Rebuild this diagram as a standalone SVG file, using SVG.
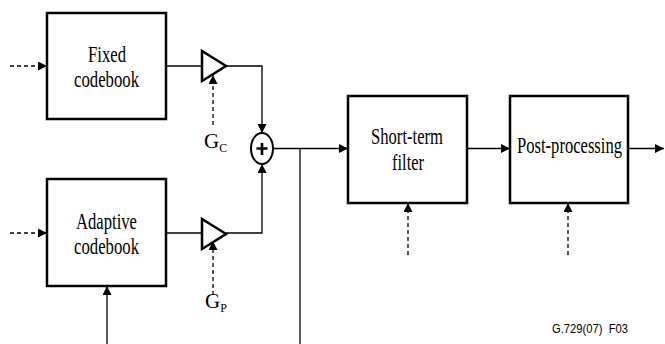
<svg xmlns="http://www.w3.org/2000/svg" width="665" height="344" viewBox="0 0 665 344">
<style>
.box{fill:#fff;stroke:#000;stroke-width:2.5}
.tri{fill:#fff;stroke:#000;stroke-width:2.5;stroke-linejoin:miter}
.lbl{font-family:"Liberation Serif","Times New Roman",serif;font-size:23.5px;fill:#000;text-anchor:start}
.g{font-family:"Liberation Serif","Times New Roman",serif;font-size:21px;fill:#000}
.sub{font-size:12px}
.ln{fill:none;stroke:#000;stroke-width:1.3}
.dash{stroke-dasharray:4 3}
.foot{font-family:"Liberation Sans",Arial,sans-serif;font-size:12px;fill:#000}
</style>
<defs>
<marker id="ah" viewBox="0 0 10 10" refX="10" refY="5" markerWidth="9" markerHeight="9" markerUnits="userSpaceOnUse" orient="auto">
<path d="M0,0 L10,5 L0,10 z" fill="#000"/>
</marker>
</defs>
<rect width="665" height="344" fill="#fff"/>
<g id="connectors">
<path class="ln dash" d="M10,66 H47" marker-end="url(#ah)"/>
<path class="ln dash" d="M10,233 H47" marker-end="url(#ah)"/>
<path class="ln" d="M166,66 H202"/>
<path class="ln" d="M166,233 H202"/>
<path class="ln dash" d="M213,125 V75" marker-end="url(#ah)"/>
<path class="ln dash" d="M213,295 V241" marker-end="url(#ah)"/>
<path class="ln" d="M226,66 H262 V133" marker-end="url(#ah)"/>
<path class="ln" d="M226,233 H262 V164" marker-end="url(#ah)"/>
<path class="ln" d="M273,148.5 H348" marker-end="url(#ah)"/>
<path class="ln" d="M300,148.5 V344"/>
<path class="ln" d="M107,344 V286" marker-end="url(#ah)"/>
<path class="ln" d="M467,148.5 H510" marker-end="url(#ah)"/>
<path class="ln" d="M628,148.5 H664" marker-end="url(#ah)"/>
<path class="ln dash" d="M408,255 V203" marker-end="url(#ah)"/>
<path class="ln dash" d="M568,255 V203" marker-end="url(#ah)"/>
</g>
<g id="fixed-codebook">
<rect class="box" x="47" y="13" width="119" height="106"/>
<text class="lbl" x="88" y="62" textLength="38" lengthAdjust="spacingAndGlyphs">Fixed</text>
<text class="lbl" x="74" y="87" textLength="65" lengthAdjust="spacingAndGlyphs">codebook</text>
</g>
<g id="adaptive-codebook">
<rect class="box" x="47" y="179" width="119" height="107"/>
<text class="lbl" x="76" y="229" textLength="61" lengthAdjust="spacingAndGlyphs">Adaptive</text>
<text class="lbl" x="74" y="254" textLength="65" lengthAdjust="spacingAndGlyphs">codebook</text>
</g>
<g id="gain-c">
<polygon class="tri" points="202,51 202,81 226,66"/>
<text class="g" x="204" y="148">G<tspan class="sub" dy="4">C</tspan></text>
</g>
<g id="gain-p">
<polygon class="tri" points="202,219 202,249 226,234"/>
<text class="g" x="205" y="308">G<tspan class="sub" dy="4">P</tspan></text>
</g>
<g id="sum">
<ellipse cx="262" cy="148.5" rx="11" ry="15.5" fill="#fff" stroke="#000" stroke-width="2"/>
<path d="M256.5,148.5 H267.5 M262,143 V155" stroke="#000" stroke-width="2.6" fill="none"/>
</g>
<g id="short-term-filter">
<rect class="box" x="348" y="96" width="119" height="107"/>
<text class="lbl" x="371" y="144" textLength="72" lengthAdjust="spacingAndGlyphs">Short-term</text>
<text class="lbl" x="392" y="170" textLength="32" lengthAdjust="spacingAndGlyphs">filter</text>
</g>
<g id="post-processing">
<rect class="box" x="510" y="96" width="118" height="107"/>
<text class="lbl" x="517" y="153" textLength="105" lengthAdjust="spacingAndGlyphs">Post-processing</text>
</g>
<text class="foot" x="552" y="333" textLength="76" lengthAdjust="spacingAndGlyphs" xml:space="preserve">G.729(07)  F03</text>
</svg>
